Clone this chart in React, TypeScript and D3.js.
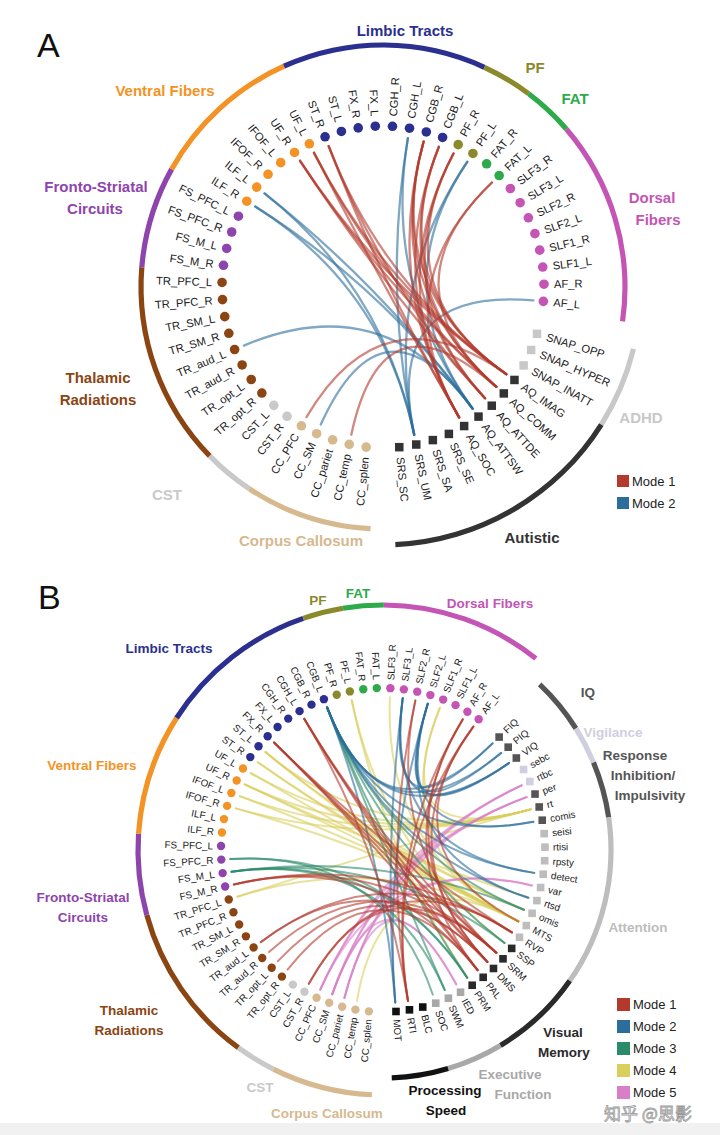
import React from 'react';
import * as d3 from 'd3';

const FONT = '"Liberation Sans", Arial, Helvetica, sans-serif';

// ---------------- data ----------------
const brainNodes = [
  'CC_splen', 'CC_temp', 'CC_pariet', 'CC_SM', 'CC_PFC', 'CST_R', 'CST_L',
  'TR_opt_R', 'TR_opt_L', 'TR_aud_R', 'TR_aud_L', 'TR_SM_R', 'TR_SM_L', 'TR_PFC_R', 'TR_PFC_L',
  'FS_M_R', 'FS_M_L', 'FS_PFC_R', 'FS_PFC_L',
  'ILF_R', 'ILF_L', 'IFOF_R', 'IFOF_L', 'UF_R', 'UF_L',
  'ST_R', 'ST_L', 'FX_R', 'FX_L', 'CGH_R', 'CGH_L', 'CGB_R', 'CGB_L',
  'PF_R', 'PF_L', 'FAT_R', 'FAT_L',
  'SLF3_R', 'SLF3_L', 'SLF2_R', 'SLF2_L', 'SLF1_R', 'SLF1_L', 'AF_R', 'AF_L',
];
const brainGroups = [
  'Corpus Callosum', 'CST', 'Thalamic Radiations', 'Fronto-Striatal Circuits',
  'Ventral Fibers', 'Limbic Tracts', 'PF', 'FAT', 'Dorsal Fibers',
];
const brainGroupSizes = [5, 2, 8, 4, 6, 8, 2, 2, 8];

const autismNodes = [
  'SNAP_OPP', 'SNAP_HYPER', 'SNAP_INATT', 'AQ_IMAG', 'AQ_COMM', 'AQ_ATTDE',
  'AQ_ATTSW', 'AQ_SOC', 'SRS_SE', 'SRS_SA', 'SRS_UM', 'SRS_SC',
];
const autismGroups = ['ADHD', 'Autistic'];
const autismGroupSizes = [3, 9];

const cognitiveNodes = [
  'FIQ', 'PIQ', 'VIQ', 'sebc', 'rtbc', 'per', 'rt', 'comis',
  'seisi', 'rtisi', 'rpsty', 'detect', 'var', 'rtsd', 'omis', 'MTS', 'RVP',
  'SSP', 'SRM', 'DMS', 'PAL', 'PRM', 'IED', 'SWM', 'SOC', 'BLC', 'RTI', 'MOT',
];
const cognitiveGroups = [
  'IQ', 'Vigilance', 'Response Inhibition/Impulsivity', 'Attention',
  'Visual Memory', 'Executive Function', 'Processing Speed',
];
const cognitiveGroupSizes = [3, 2, 3, 9, 5, 3, 3];

const modesA = ['Mode 1', 'Mode 2'];
const modesB = ['Mode 1', 'Mode 2', 'Mode 3', 'Mode 4', 'Mode 5'];

// [brain tract, behaviour measure, mode index]
const linksA: [string, string, number][] = [
  ['ILF_R', 'SRS_UM', 1], ['ILF_R', 'AQ_ATTSW', 1],
  ['ILF_L', 'SRS_UM', 1], ['ILF_L', 'AQ_ATTSW', 1],
  ['CGH_L', 'SRS_UM', 1], ['CGH_L', 'AQ_ATTSW', 1],
  ['PF_L', 'SRS_UM', 1], ['PF_L', 'AQ_ATTSW', 1],
  ['AF_L', 'SRS_UM', 1], ['TR_aud_L', 'AQ_ATTSW', 1], ['CC_SM', 'AQ_ATTSW', 1],
  ['UF_R', 'AQ_IMAG', 0], ['UF_R', 'AQ_COMM', 0], ['UF_R', 'AQ_ATTDE', 0],
  ['UF_L', 'AQ_IMAG', 0], ['UF_L', 'AQ_COMM', 0], ['UF_L', 'AQ_SOC', 0],
  ['ST_R', 'AQ_IMAG', 0], ['ST_R', 'AQ_ATTDE', 0], ['ST_R', 'AQ_SOC', 0],
  ['CGB_R', 'AQ_IMAG', 0], ['CGB_R', 'AQ_COMM', 0], ['CGB_R', 'AQ_ATTDE', 0], ['CGB_R', 'AQ_SOC', 0],
  ['CGB_L', 'AQ_IMAG', 0], ['CGB_L', 'AQ_COMM', 0], ['CGB_L', 'AQ_SOC', 0],
  ['PF_R', 'AQ_IMAG', 0], ['PF_R', 'AQ_ATTDE', 0], ['PF_R', 'AQ_SOC', 0],
  ['FAT_L', 'AQ_COMM', 0], ['FAT_L', 'AQ_SOC', 0],
  ['CC_PFC', 'AQ_IMAG', 0], ['CC_temp', 'AQ_COMM', 0],
];

const linksB: [string, string, number][] = [
  // mode 4
  ['ST_L', 'MTS', 3], ['ST_L', 'rt', 3], ['ST_L', 'omis', 3], ['ST_R', 'MTS', 3], ['ST_R', 'omis', 3],
  ['UF_L', 'MTS', 3], ['UF_L', 'rt', 3], ['UF_R', 'MTS', 3], ['UF_R', 'rtsd', 3], ['UF_R', 'rt', 3],
  ['IFOF_L', 'MTS', 3], ['IFOF_L', 'rt', 3], ['IFOF_R', 'MTS', 3], ['IFOF_R', 'rt', 3],
  ['PF_L', 'PRM', 3], ['PF_L', 'SSP', 3], ['SLF3_R', 'MTS', 3], ['SLF1_R', 'rt', 3], ['SLF1_R', 'MTS', 3],
  ['TR_PFC_L', 'rt', 3], ['TR_PFC_L', 'MTS', 3], ['CC_temp', 'MTS', 3],
  // mode 5
  ['CC_PFC', 'per', 4], ['CC_PFC', 'var', 4], ['CC_PFC', 'rtbc', 4], ['CC_SM', 'rtbc', 4], ['CC_SM', 'IED', 4],
  ['CC_SM', 'var', 4], ['CC_SM', 'per', 4], ['CC_pariet', 'per', 4], ['CC_pariet', 'rtbc', 4], ['CC_pariet', 'IED', 4],
  // mode 3
  ['FS_M_L', 'SSP', 2], ['FS_M_L', 'omis', 2], ['FS_M_L', 'SWM', 2], ['FS_M_L', 'PRM', 2],
  ['CGB_L', 'PRM', 2], ['CGB_L', 'SWM', 2], ['CGB_L', 'SSP', 2], ['CGB_L', 'omis', 2],
  ['FS_PFC_R', 'SOC', 2], ['FS_PFC_R', 'PRM', 2],
  // mode 2
  ['CGB_L', 'FIQ', 1], ['CGB_L', 'PIQ', 1], ['CGB_L', 'VIQ', 1], ['CGB_L', 'comis', 1],
  ['CGB_L', 'detect', 1], ['CGB_L', 'MOT', 1], ['CGB_L', 'rtsd', 1],
  ['SLF3_L', 'MOT', 1], ['SLF3_L', 'detect', 1], ['SLF3_L', 'FIQ', 1], ['SLF3_L', 'VIQ', 1],
  ['SLF2_L', 'PIQ', 1], ['SLF2_L', 'VIQ', 1], ['SLF2_L', 'comis', 1], ['SLF2_L', 'rtsd', 1], ['SLF2_L', 'MOT', 1],
  // mode 1
  ['FX_R', 'SRM', 0], ['FX_R', 'DMS', 0], ['FX_R', 'RVP', 0], ['FX_R', 'PAL', 0],
  ['CGH_L', 'RTI', 0], ['CGH_L', 'PAL', 0], ['CGH_L', 'DMS', 0], ['CGH_L', 'SRM', 0],
  ['SLF2_R', 'RTI', 0], ['SLF2_R', 'SRM', 0],
  ['AF_R', 'PAL', 0], ['AF_R', 'RTI', 0], ['AF_R', 'DMS', 0],
  ['AF_L', 'DMS', 0], ['AF_L', 'MTS', 0], ['AF_L', 'RTI', 0],
  ['FS_M_R', 'SRM', 0], ['FS_M_R', 'RVP', 0], ['FS_M_R', 'PAL', 0],
  ['TR_aud_L', 'RVP', 0], ['TR_aud_L', 'DMS', 0], ['TR_aud_R', 'SRM', 0], ['TR_opt_L', 'DMS', 0],
  ['TR_opt_R', 'PAL', 0], ['CST_R', 'RVP', 0], ['CST_R', 'SRM', 0],
];

// ---------------- styles ----------------
const groupColors: Record<string, string> = {
  'Corpus Callosum': '#d6b98f',
  CST: '#c9c9c9',
  'Thalamic Radiations': '#8b4513',
  'Fronto-Striatal Circuits': '#8e44ad',
  'Ventral Fibers': '#f39325',
  'Limbic Tracts': '#2b2f8f',
  PF: '#8a8a2c',
  FAT: '#2eaa4a',
  'Dorsal Fibers': '#c455b5',
  ADHD: '#c8c8c8',
  Autistic: '#333333',
  IQ: '#555555',
  Vigilance: '#cfcfe0',
  'Response Inhibition/Impulsivity': '#555555',
  Attention: '#bdbdbd',
  'Visual Memory': '#2a2a2a',
  'Executive Function': '#a8a8a8',
  'Processing Speed': '#111111',
};
const modeColors = ['#b2392c', '#2c6e9b', '#2a8b6b', '#d8cf5c', '#d87fc8'];

type LabelLine = [string, number, number];
const labelLayoutA: Record<string, LabelLine[]> = {
  'Limbic Tracts': [['Limbic Tracts', 22, -256]],
  PF: [['PF', 152, -219]],
  FAT: [['FAT', 192, -188]],
  'Dorsal Fibers': [['Dorsal', 269, -89], ['Fibers', 275, -67]],
  'Ventral Fibers': [['Ventral Fibers', -218, -196]],
  'Fronto-Striatal Circuits': [['Fronto-Striatal', -287, -100], ['Circuits', -288, -78]],
  'Thalamic Radiations': [['Thalamic', -285, 91], ['Radiations', -285, 113]],
  CST: [['CST', -216, 208]],
  'Corpus Callosum': [['Corpus Callosum', -82, 254]],
  ADHD: [['ADHD', 258, 131]],
  Autistic: [['Autistic', 149, 251]],
};
const labelLayoutB: Record<string, LabelLine[]> = {
  PF: [['PF', -65, -250]],
  FAT: [['FAT', -25, -257]],
  'Dorsal Fibers': [['Dorsal Fibers', 107, -247]],
  'Limbic Tracts': [['Limbic Tracts', -214, -202]],
  'Ventral Fibers': [['Ventral Fibers', -291, -85]],
  'Fronto-Striatal Circuits': [['Fronto-Striatal', -300, 47], ['Circuits', -300, 67]],
  'Thalamic Radiations': [['Thalamic', -254, 160], ['Radiations', -254, 180]],
  CST: [['CST', -123, 237]],
  'Corpus Callosum': [['Corpus Callosum', -56, 263]],
  IQ: [['IQ', 205, -158]],
  Vigilance: [['Vigilance', 230, -118]],
  'Response Inhibition/Impulsivity': [['Response', 252, -95], ['Inhibition/', 260, -75], ['Impulsivity', 267, -55]],
  Attention: [['Attention', 255, 77]],
  'Visual Memory': [['Visual', 180, 182], ['Memory', 181, 202]],
  'Executive Function': [['Executive', 127, 224], ['Function', 140, 244]],
  'Processing Speed': [['Processing', 62, 240], ['Speed', 63, 260]],
};

interface PanelCfg {
  cx: number; cy: number; start: number; gapUnits: number;
  nodeR: number; linkR: number; labelR: number; brainArcR: number; behArcR: number;
  dotR: number; sq: number; font: number; linkW: number; linkOp: number; groupFont: number;
  legendX: number; legendY: number; legendSize: number;
}

const cfgA: PanelCfg = {
  cx: 383, cy: 287, start: 186, gapUnits: 1.93, nodeR: 161, linkR: 151, labelR: 171,
  brainArcR: 242, behArcR: 258, dotR: 4.8, sq: 8.5, font: 11.2, linkW: 2.3, linkOp: 0.6, groupFont: 15,
  legendX: 617, legendY: 475, legendSize: 12,
};
const cfgB: PanelCfg = {
  cx: 383, cy: 850, start: 185, gapUnits: 2, nodeR: 162, linkR: 153, labelR: 170,
  brainArcR: 245, behArcR: 228, dotR: 4.2, sq: 7.6, font: 9.8, linkW: 2, linkOp: 0.6, groupFont: 13.5,
  legendX: 617, legendY: 998, legendSize: 13,
};

const rad = (deg: number) => (deg * Math.PI) / 180;

function ChordPanel(props: {
  cfg: PanelCfg;
  behNodes: string[];
  behGroups: string[];
  behSizes: number[];
  links: [string, string, number][];
  modes: string[];
  layout: Record<string, LabelLine[]>;
}) {
  const { cfg, behNodes, behGroups, behSizes, links, modes, layout } = props;
  const { cx, cy } = cfg;
  const nB = brainNodes.length;
  const nS = behNodes.length;
  const step = 360 / (nB - 1 + nS - 1 + 2 * cfg.gapUnits);
  const ang = d3.scaleLinear().domain([0, 1]).range([cfg.start, cfg.start + step]);

  const angleOf = new Map<string, number>();
  const colorOf = new Map<string, string>();
  brainNodes.forEach((n, i) => angleOf.set(n, ang(i)));
  behNodes.forEach((n, j) => angleOf.set(n, ang(nB - 1 + cfg.gapUnits + j)));

  const pt = (a: number, r: number): [number, number] => [
    cx + r * Math.sin(rad(a)),
    cy - r * Math.cos(rad(a)),
  ];

  const groupArcs: { name: string; a0: number; a1: number; r: number }[] = [];
  let k = 0;
  brainGroups.forEach((g, gi) => {
    const members = brainNodes.slice(k, k + brainGroupSizes[gi]);
    members.forEach((m) => colorOf.set(m, groupColors[g]));
    groupArcs.push({
      name: g,
      a0: angleOf.get(members[0])! - step / 2,
      a1: angleOf.get(members[members.length - 1])! + step / 2,
      r: cfg.brainArcR,
    });
    k += brainGroupSizes[gi];
  });
  k = 0;
  behGroups.forEach((g, gi) => {
    const members = behNodes.slice(k, k + behSizes[gi]);
    members.forEach((m) => colorOf.set(m, groupColors[g]));
    groupArcs.push({
      name: g,
      a0: angleOf.get(members[0])! - step / 2,
      a1: angleOf.get(members[members.length - 1])! + step / 2,
      r: cfg.behArcR,
    });
    k += behSizes[gi];
  });

  const arcGen = d3.arc<any>();

  const linkPath = (s: string, t: string) => {
    const p = d3.path();
    const [x0, y0] = pt(angleOf.get(s)!, cfg.linkR);
    const [x1, y1] = pt(angleOf.get(t)!, cfg.linkR);
    p.moveTo(x0, y0);
    p.quadraticCurveTo(cx, cy, x1, y1);
    return p.toString();
  };

  return (
    <g>
      <g fill="none" strokeLinecap="round">
        {links.map(([s, t, m], i) => (
          <path
            key={i}
            d={linkPath(s, t)}
            stroke={modeColors[m]}
            strokeWidth={cfg.linkW}
            strokeOpacity={cfg.linkOp}
          />
        ))}
      </g>
      {groupArcs.map((g) => (
        <path
          key={g.name}
          transform={`translate(${cx},${cy})`}
          d={arcGen({ innerRadius: g.r - 2.6, outerRadius: g.r + 2.6, startAngle: rad(g.a0), endAngle: rad(g.a1) }) || ''}
          fill={groupColors[g.name]}
        />
      ))}
      {brainNodes.map((n) => {
        const [x, y] = pt(angleOf.get(n)!, cfg.nodeR);
        return <circle key={n} cx={x} cy={y} r={cfg.dotR} fill={colorOf.get(n)} />;
      })}
      {behNodes.map((n) => {
        const [x, y] = pt(angleOf.get(n)!, cfg.nodeR);
        return (
          <rect key={n} x={x - cfg.sq / 2} y={y - cfg.sq / 2} width={cfg.sq} height={cfg.sq} fill={colorOf.get(n)} />
        );
      })}
      <g fontFamily={FONT} fontSize={cfg.font} fill="#1a1a1a">
        {[...brainNodes, ...behNodes].map((n) => {
          const a = angleOf.get(n)!;
          const norm = ((a % 360) + 360) % 360;
          const flip = norm > 180;
          return (
            <text
              key={n}
              transform={`translate(${cx},${cy}) rotate(${a - 90}) translate(${cfg.labelR},0)${flip ? ' rotate(180)' : ''}`}
              textAnchor={flip ? 'end' : 'start'}
              dy="0.35em"
            >
              {n}
            </text>
          );
        })}
      </g>
      <g fontFamily={FONT} fontSize={cfg.groupFont} fontWeight="bold" textAnchor="middle">
        {Object.entries(layout).map(([g, lines]) =>
          lines.map(([t, dx, dy], i) => (
            <text key={g + i} x={cx + dx} y={cy + dy} dy="0.35em" fill={groupColors[g]}>
              {t}
            </text>
          ))
        )}
      </g>
      <g fontFamily={FONT} fontSize={13} fill="#222">
        {modes.map((m, i) => (
          <g key={m} transform={`translate(${cfg.legendX},${cfg.legendY + i * 22})`}>
            <rect width={cfg.legendSize} height={cfg.legendSize} fill={modeColors[i]} />
            <text x={cfg.legendSize + 3} y={cfg.legendSize / 2} dy="0.36em">
              {m}
            </text>
          </g>
        ))}
      </g>
    </g>
  );
}

export default function App() {
  return (
    <svg
      width={720}
      height={1135}
      viewBox="0 0 720 1135"
      style={{ position: 'absolute', left: 0, top: 0, background: '#fff' }}
    >
      <rect width={720} height={1135} fill="#ffffff" />
      <rect y={1123} width={720} height={12} fill="#f1f1f1" />
      <text x={37} y={57} fontFamily={FONT} fontSize={34} fill="#111">A</text>
      <text x={38} y={609} fontFamily={FONT} fontSize={34} fill="#111">B</text>
      <ChordPanel
        cfg={cfgA}
        behNodes={autismNodes}
        behGroups={autismGroups}
        behSizes={autismGroupSizes}
        links={linksA}
        modes={modesA}
        layout={labelLayoutA}
      />
      <ChordPanel
        cfg={cfgB}
        behNodes={cognitiveNodes}
        behGroups={cognitiveGroups}
        behSizes={cognitiveGroupSizes}
        links={linksB}
        modes={modesB}
        layout={labelLayoutB}
      />
      <text
        x={648}
        y={1120}
        textAnchor="middle"
        fontFamily='"Noto Sans CJK SC", sans-serif'
        fontSize={17}
        fill="#ffffff"
        fillOpacity={0.85}
        stroke="#9a9a9a"
        strokeWidth={0.8}
      >
        知乎 @思影
      </text>
    </svg>
  );
}
